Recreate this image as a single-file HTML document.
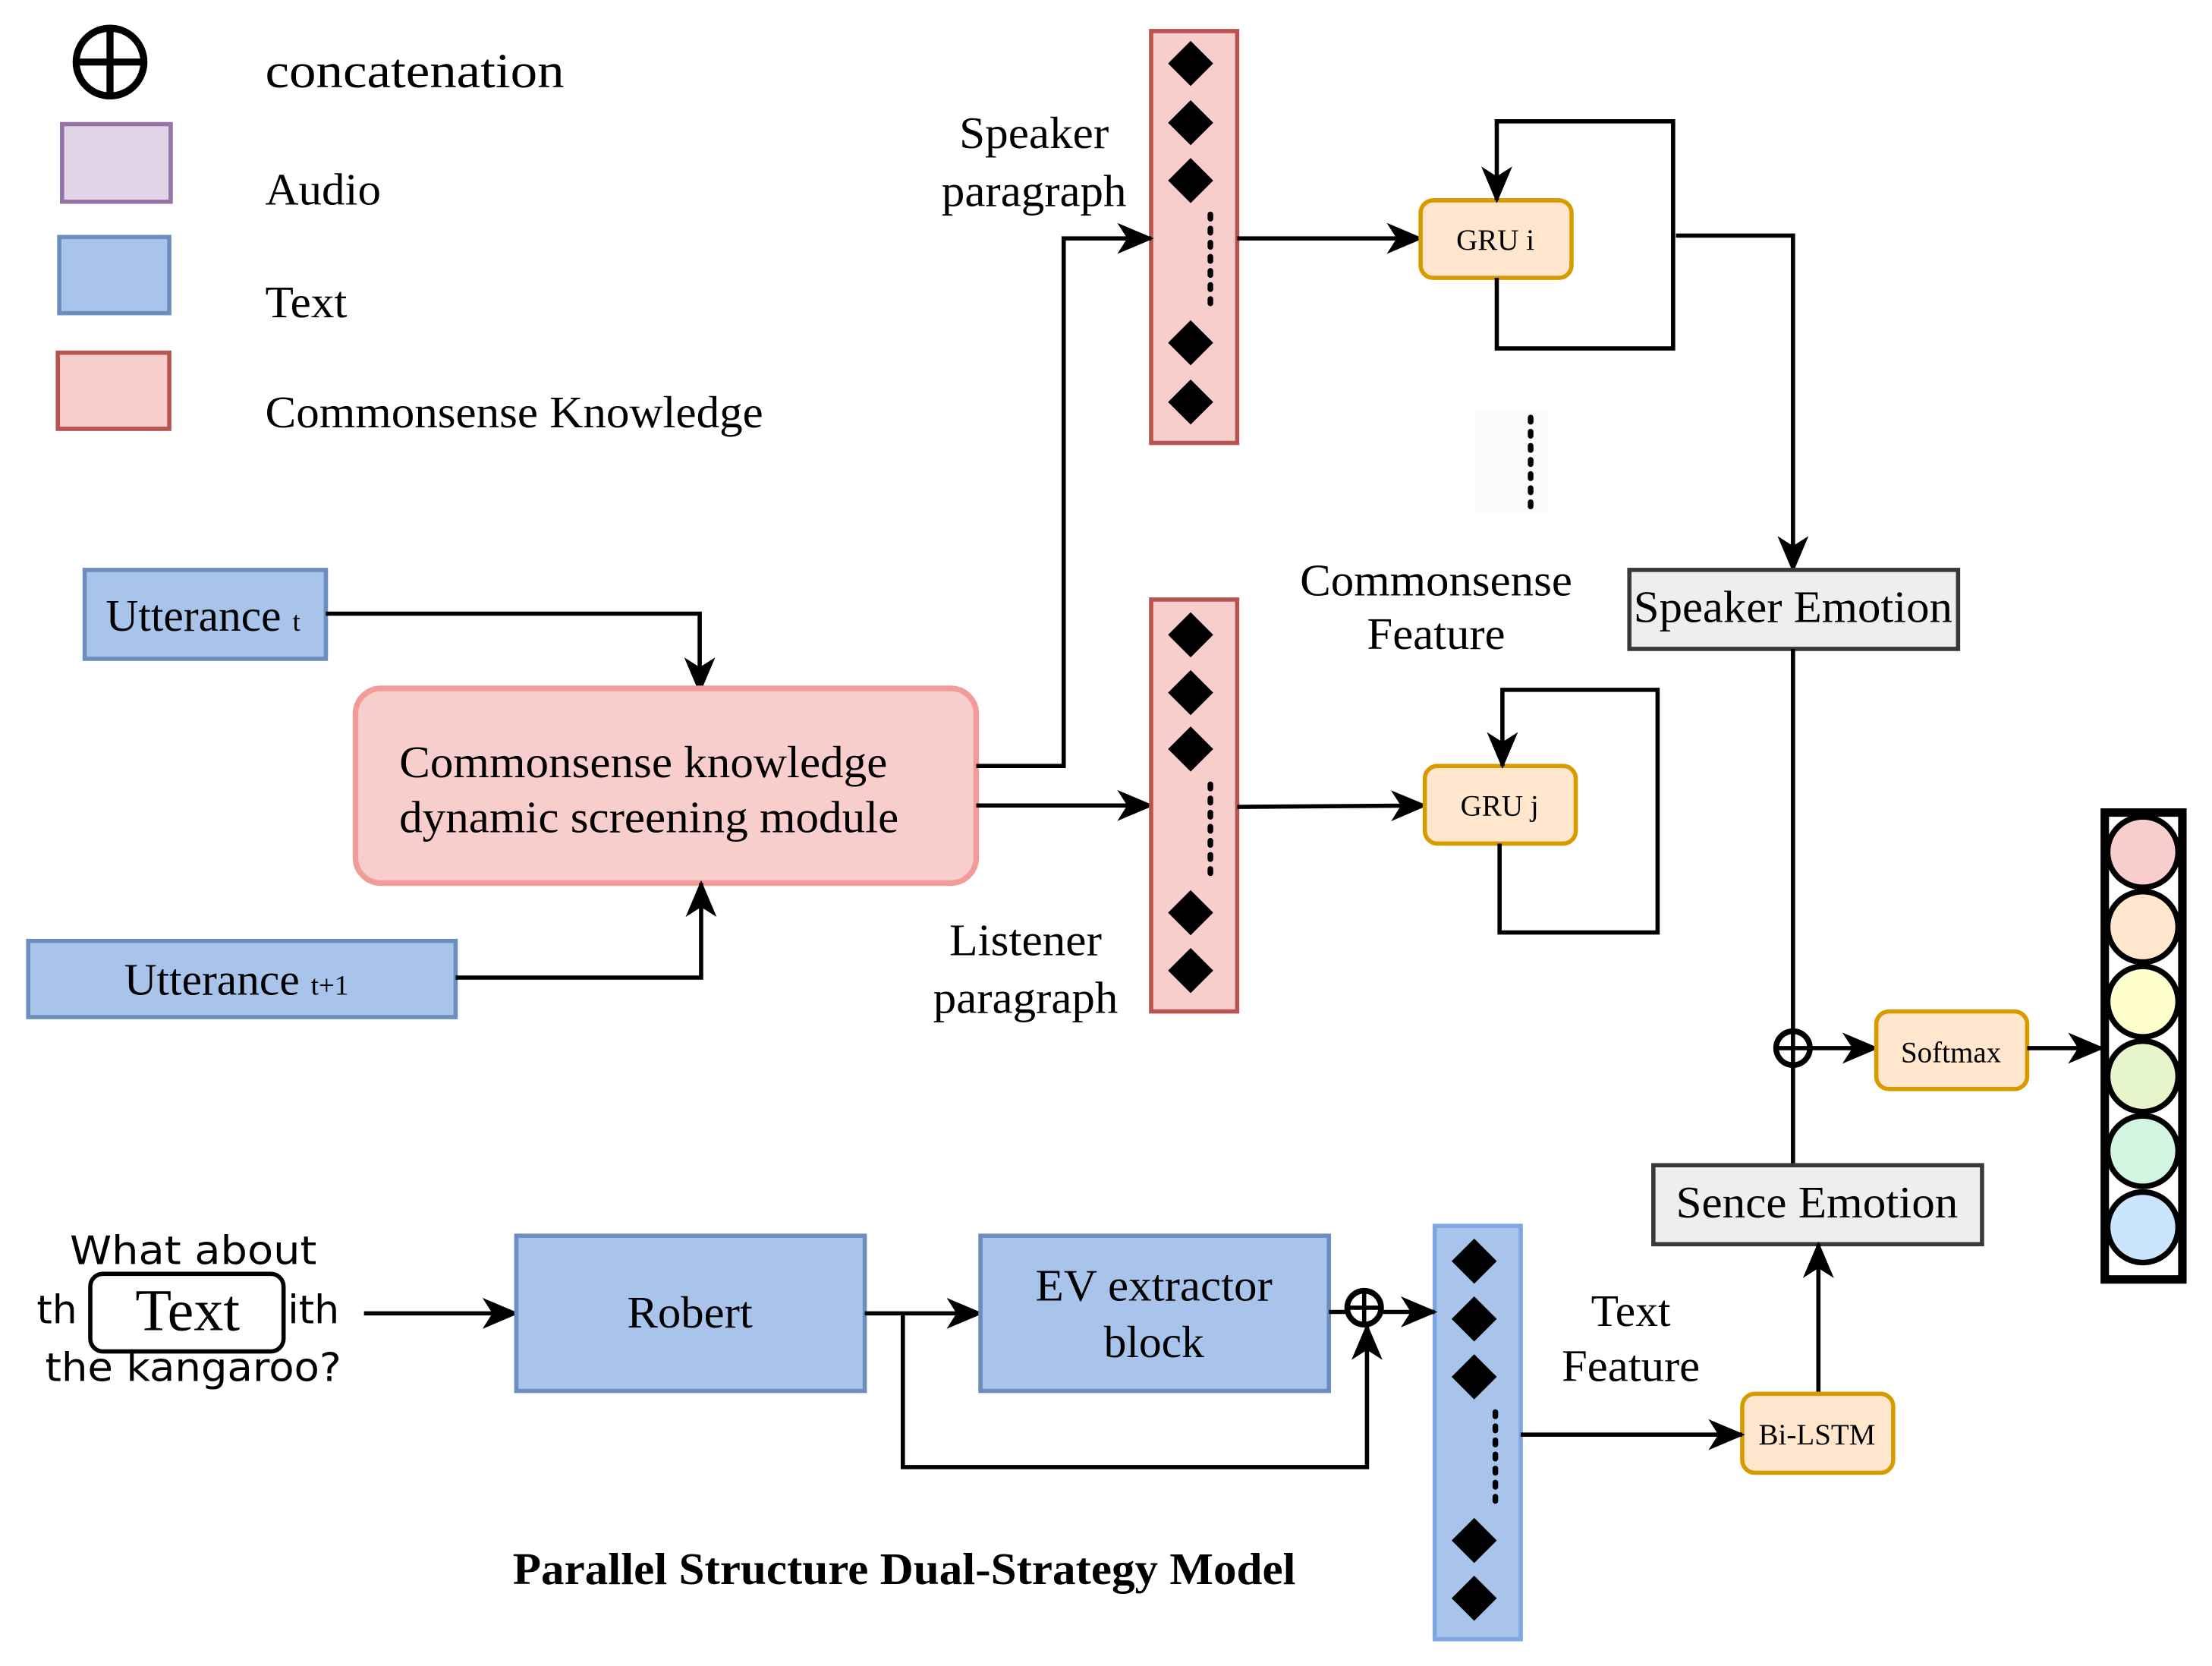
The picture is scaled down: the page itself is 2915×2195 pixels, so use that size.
<!DOCTYPE html>
<html><head><meta charset="utf-8"><style>
html,body{margin:0;padding:0;background:#fff;}
svg{display:block;}
text{font-family:"Liberation Serif",serif;fill:#000;}
</style></head><body>
<svg width="2915" height="2195" viewBox="0 0 1568 1181" preserveAspectRatio="none" xmlns="http://www.w3.org/2000/svg">
<defs>
<marker id="b" markerWidth="26" markerHeight="26" refX="24" refY="13" orient="auto" markerUnits="userSpaceOnUse" viewBox="0 0 26 26">
<path d="M0,2 L26,13 L0,24 L7,13 z" fill="#000"/></marker>
</defs>
<rect width="1568" height="1181" fill="#fff"/>
<!-- legend -->
<circle cx="78" cy="44" r="24" fill="none" stroke="#000" stroke-width="5"/>
<line x1="54" y1="44" x2="102" y2="44" stroke="#000" stroke-width="5"/>
<line x1="78" y1="20" x2="78" y2="68" stroke="#000" stroke-width="5"/>
<text x="188" y="62" font-size="35" textLength="212" lengthAdjust="spacingAndGlyphs">concatenation</text>
<rect x="44" y="88" width="77" height="55" fill="#e1d5e7" stroke="#9673a6" stroke-width="3"/>
<text x="188" y="145" font-size="32" textLength="82" lengthAdjust="spacingAndGlyphs">Audio</text>
<rect x="42" y="168" width="78" height="54" fill="#a9c4eb" stroke="#6c8ebf" stroke-width="3"/>
<text x="188" y="225" font-size="32" textLength="58" lengthAdjust="spacingAndGlyphs">Text</text>
<rect x="41" y="250" width="79" height="54" fill="#f8cecc" stroke="#b85450" stroke-width="3"/>
<text x="188" y="303" font-size="32" textLength="353" lengthAdjust="spacingAndGlyphs">Commonsense Knowledge</text>

<!-- speaker column -->
<rect x="816" y="22" width="61" height="292" fill="#f8cecc" stroke="#b85450" stroke-width="3"/>
<g fill="#000">
<path d="M844,29 l16,16 l-16,16 l-16,-16z"/><path d="M844,71 l16,16 l-16,16 l-16,-16z"/><path d="M844,112 l16,16 l-16,16 l-16,-16z"/>
<path d="M844,227 l16,16 l-16,16 l-16,-16z"/><path d="M844,269 l16,16 l-16,16 l-16,-16z"/>
</g>
<line x1="858" y1="152" x2="858" y2="218" stroke="#000" stroke-width="4" stroke-dasharray="3,7" stroke-linecap="round"/>
<text x="733" y="105" font-size="32" text-anchor="middle" textLength="106" lengthAdjust="spacingAndGlyphs">Speaker</text>
<text x="733" y="146" font-size="32" text-anchor="middle" textLength="131" lengthAdjust="spacingAndGlyphs">paragraph</text>

<line x1="877" y1="169" x2="1007" y2="169" stroke="#000" stroke-width="3" marker-end="url(#b)"/>
<rect x="1007" y="142" width="107" height="55" rx="9" fill="#ffe6cc" stroke="#d79b00" stroke-width="3"/>
<text x="1060" y="177" font-size="21" text-anchor="middle">GRU i</text>
<polyline points="1061,197 1061,247 1186,247 1186,86 1061,86 1061,142" fill="none" stroke="#000" stroke-width="3" marker-end="url(#b)"/>
<polyline points="1188,167 1271,167 1271,404" fill="none" stroke="#000" stroke-width="3" marker-end="url(#b)"/>

<rect x="1045" y="290" width="53" height="75" fill="#fbfbfb"/>
<line x1="1085" y1="296" x2="1085" y2="360" stroke="#000" stroke-width="4" stroke-dasharray="3,7" stroke-linecap="round"/>
<text x="1018" y="422" font-size="32" text-anchor="middle" textLength="193" lengthAdjust="spacingAndGlyphs">Commonsense</text>
<text x="1018" y="460" font-size="32" text-anchor="middle" textLength="98" lengthAdjust="spacingAndGlyphs">Feature</text>

<rect x="1155" y="404" width="233" height="56" fill="#eeeeee" stroke="#36393d" stroke-width="3"/>
<text x="1271" y="441" font-size="32" text-anchor="middle" textLength="226" lengthAdjust="spacingAndGlyphs">Speaker Emotion</text>

<!-- utterances & module -->
<rect x="60" y="404" width="171" height="63" fill="#a9c4eb" stroke="#6c8ebf" stroke-width="3"/>
<text x="75" y="447" font-size="32">Utterance <tspan font-size="20">t</tspan></text>
<polyline points="231,435 496,435 496,490" fill="none" stroke="#000" stroke-width="3" marker-end="url(#b)"/>
<rect x="252" y="488" width="440" height="138" rx="18" fill="#f8cecc" stroke="#f19c99" stroke-width="4"/>
<text x="283" y="551" font-size="32" textLength="346" lengthAdjust="spacingAndGlyphs">Commonsense knowledge</text>
<text x="283" y="590" font-size="32" textLength="354" lengthAdjust="spacingAndGlyphs">dynamic screening module</text>
<rect x="20" y="667" width="303" height="54" fill="#a9c4eb" stroke="#6c8ebf" stroke-width="3"/>
<text x="88" y="705" font-size="32">Utterance <tspan font-size="20">t+1</tspan></text>
<polyline points="323,693 497,693 497,626" fill="none" stroke="#000" stroke-width="3" marker-end="url(#b)"/>
<polyline points="692,543 754,543 754,169 816,169" fill="none" stroke="#000" stroke-width="3" marker-end="url(#b)"/>
<line x1="692" y1="571" x2="816" y2="571" stroke="#000" stroke-width="3" marker-end="url(#b)"/>

<!-- listener column -->
<rect x="816" y="425" width="61" height="292" fill="#f8cecc" stroke="#b85450" stroke-width="3"/>
<g fill="#000">
<path d="M844,434 l16,16 l-16,16 l-16,-16z"/><path d="M844,475 l16,16 l-16,16 l-16,-16z"/><path d="M844,515 l16,16 l-16,16 l-16,-16z"/>
<path d="M844,631 l16,16 l-16,16 l-16,-16z"/><path d="M844,672 l16,16 l-16,16 l-16,-16z"/>
</g>
<line x1="858" y1="556" x2="858" y2="622" stroke="#000" stroke-width="4" stroke-dasharray="3,7" stroke-linecap="round"/>
<text x="727" y="677" font-size="32" text-anchor="middle" textLength="108" lengthAdjust="spacingAndGlyphs">Listener</text>
<text x="727" y="718" font-size="32" text-anchor="middle" textLength="131" lengthAdjust="spacingAndGlyphs">paragraph</text>

<line x1="877" y1="572" x2="1010" y2="571" stroke="#000" stroke-width="3" marker-end="url(#b)"/>
<rect x="1010" y="543" width="107" height="55" rx="9" fill="#ffe6cc" stroke="#d79b00" stroke-width="3"/>
<text x="1063" y="578" font-size="21" text-anchor="middle">GRU j</text>
<polyline points="1063,598 1063,661 1175,661 1175,489 1065,489 1065,543" fill="none" stroke="#000" stroke-width="3" marker-end="url(#b)"/>

<!-- right side -->
<line x1="1271" y1="460" x2="1271" y2="826" stroke="#000" stroke-width="3"/>
<circle cx="1271" cy="743" r="12" fill="#fff" stroke="#000" stroke-width="4"/>
<line x1="1259" y1="743" x2="1283" y2="743" stroke="#000" stroke-width="3"/>
<line x1="1271" y1="731" x2="1271" y2="755" stroke="#000" stroke-width="3"/>
<line x1="1284" y1="743" x2="1330" y2="743" stroke="#000" stroke-width="3" marker-end="url(#b)"/>
<rect x="1330" y="717" width="107" height="55" rx="9" fill="#ffe6cc" stroke="#d79b00" stroke-width="3"/>
<text x="1383" y="753" font-size="21" text-anchor="middle">Softmax</text>
<line x1="1437" y1="743" x2="1490" y2="743" stroke="#000" stroke-width="3" marker-end="url(#b)"/>
<rect x="1492" y="576" width="55" height="331" fill="#fff" stroke="#000" stroke-width="6"/>
<g stroke="#000" stroke-width="4">
<circle cx="1519" cy="604" r="25" fill="#f8cecc"/>
<circle cx="1519" cy="657" r="25" fill="#ffe6cc"/>
<circle cx="1519" cy="710" r="25" fill="#ffffcc"/>
<circle cx="1519" cy="763" r="25" fill="#e6f5cc"/>
<circle cx="1519" cy="816" r="25" fill="#d5f5e3"/>
<circle cx="1519" cy="870" r="25" fill="#cce5ff"/>
</g>
<rect x="1172" y="826" width="233" height="56" fill="#eeeeee" stroke="#36393d" stroke-width="3"/>
<text x="1288" y="863" font-size="32" text-anchor="middle" textLength="200" lengthAdjust="spacingAndGlyphs">Sence Emotion</text>
<line x1="1289" y1="988" x2="1289" y2="882" stroke="#000" stroke-width="3" marker-end="url(#b)"/>
<rect x="1235" y="988" width="107" height="56" rx="9" fill="#ffe6cc" stroke="#d79b00" stroke-width="3"/>
<text x="1288" y="1024" font-size="21" text-anchor="middle">Bi-LSTM</text>

<!-- text column -->
<rect x="1017" y="869" width="61" height="293" fill="#a9c4eb" stroke="#7ea6e0" stroke-width="3"/>
<g fill="#000">
<path d="M1045,878 l16,16 l-16,16 l-16,-16z"/><path d="M1045,919 l16,16 l-16,16 l-16,-16z"/><path d="M1045,960 l16,16 l-16,16 l-16,-16z"/>
<path d="M1045,1076 l16,16 l-16,16 l-16,-16z"/><path d="M1045,1117 l16,16 l-16,16 l-16,-16z"/>
</g>
<line x1="1060" y1="1001" x2="1060" y2="1068" stroke="#000" stroke-width="4" stroke-dasharray="3,7" stroke-linecap="round"/>
<line x1="1078" y1="1017" x2="1235" y2="1017" stroke="#000" stroke-width="3" marker-end="url(#b)"/>
<text x="1156" y="940" font-size="32" text-anchor="middle">Text</text>
<text x="1156" y="979" font-size="32" text-anchor="middle" textLength="98" lengthAdjust="spacingAndGlyphs">Feature</text>

<!-- bottom flow -->
<g fill="#222">
<text x="137" y="896" font-size="28" text-anchor="middle" textLength="175" lengthAdjust="spacingAndGlyphs" style="font-family:'DejaVu Sans',sans-serif">What about</text>
<text x="26" y="938" font-size="28" style="font-family:'DejaVu Sans',sans-serif">th</text>
<text x="204" y="938" font-size="28" style="font-family:'DejaVu Sans',sans-serif">ith</text>
<text x="137" y="979" font-size="28" text-anchor="middle" textLength="210" lengthAdjust="spacingAndGlyphs" style="font-family:'DejaVu Sans',sans-serif">the kangaroo?</text>
</g>
<rect x="64" y="903" width="137" height="55" rx="9" fill="#fff" stroke="#000" stroke-width="3"/>
<text x="133" y="943" font-size="42" text-anchor="middle">Text</text>
<line x1="258" y1="931" x2="366" y2="931" stroke="#000" stroke-width="3" marker-end="url(#b)"/>
<rect x="366" y="876" width="247" height="110" fill="#a9c4eb" stroke="#6c8ebf" stroke-width="3"/>
<text x="489" y="941" font-size="32" text-anchor="middle" textLength="89" lengthAdjust="spacingAndGlyphs">Robert</text>
<line x1="613" y1="931" x2="695" y2="931" stroke="#000" stroke-width="3" marker-end="url(#b)"/>
<rect x="695" y="876" width="247" height="110" fill="#a9c4eb" stroke="#6c8ebf" stroke-width="3"/>
<text x="818" y="922" font-size="32" text-anchor="middle" textLength="168" lengthAdjust="spacingAndGlyphs">EV extractor</text>
<text x="818" y="962" font-size="32" text-anchor="middle">block</text>
<polyline points="640,931 640,1040 969,1040 969,940" fill="none" stroke="#000" stroke-width="3" marker-end="url(#b)"/>
<line x1="942" y1="930" x2="955" y2="930" stroke="#000" stroke-width="3"/>
<circle cx="967" cy="927" r="12" fill="#fff" stroke="#000" stroke-width="4"/>
<line x1="955" y1="927" x2="979" y2="927" stroke="#000" stroke-width="3"/>
<line x1="967" y1="915" x2="967" y2="939" stroke="#000" stroke-width="3"/>
<line x1="980" y1="930" x2="1017" y2="930" stroke="#000" stroke-width="3" marker-end="url(#b)"/>
<text x="641" y="1123" font-size="32" font-weight="bold" text-anchor="middle" textLength="555" lengthAdjust="spacingAndGlyphs">Parallel Structure Dual-Strategy Model</text>
</svg>
</body></html>
